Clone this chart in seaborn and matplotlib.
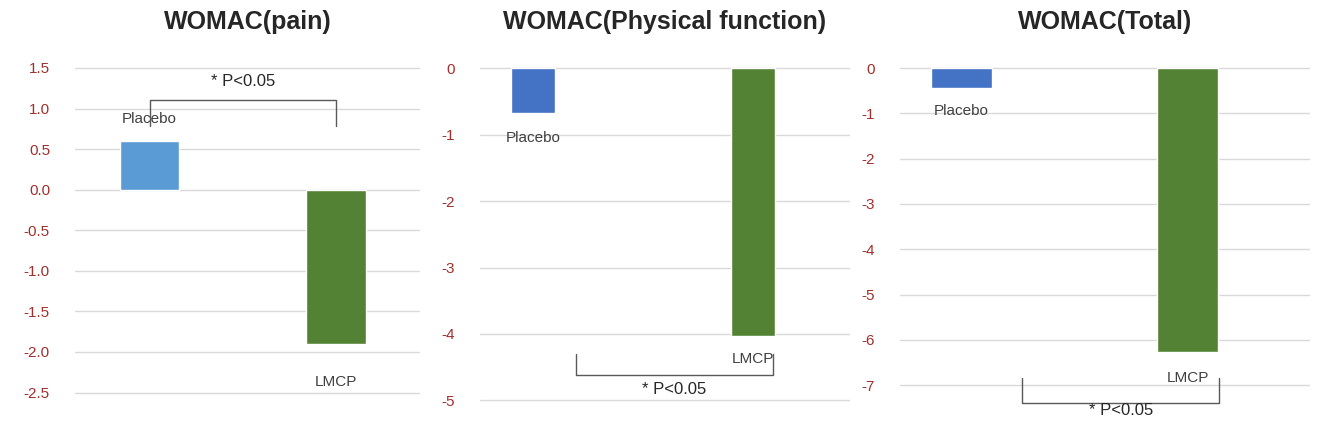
import matplotlib
matplotlib.use("Agg")
import matplotlib.pyplot as plt
import seaborn as sns
import pandas as pd

sns.set_theme(style="white")
plt.rcParams['font.family'] = ['Liberation Sans', 'DejaVu Sans']

groups = ["Placebo", "LMCP"]
titles = ["WOMAC(pain)", "WOMAC(Physical function)", "WOMAC(Total)"]
pain = [0.6, -1.9]
physical = [-0.67, -4.03]
total = [-0.44, -6.27]
values = [pain, physical, total]
ticks = [[1.5, 1.0, 0.5, 0.0, -0.5, -1.0, -1.5, -2.0, -2.5],
         [0, -1, -2, -3, -4, -5],
         [0, -1, -2, -3, -4, -5, -6, -7]]
tick_fmt = ["{:.1f}", "{:.0f}", "{:.0f}"]
sig_text = "* P<0.05"

W, H = 1325, 432
fig = plt.figure(figsize=(W/100, H/100), dpi=100)
boxes = [(75, 420), (480, 850), (900, 1310)]
ylims = [(-2.9, 1.66), (-5.37, 0.2), (-7.88, 0.29)]
xlims = [(-0.4, 1.45), (-0.24, 1.44), (-0.27, 1.54)]
widths = [0.32, 0.2, 0.27]
colors = [["#5B9BD5", "#548235"], ["#4472C4", "#548235"], ["#4472C4", "#548235"]]
labpos = [[0.875, -2.375], [-1.05, -4.38], [-0.95, -6.84]]
brackets = [(0, 1, 1.1, 0.79, 1.33), (0.195, 1.09, -4.62, -4.3, -4.83),
            (0.27, 1.14, -7.4, -6.84, -7.55)]
tickcol = "#A0302D"
top_px, bot_px = 55, 425

for i in range(3):
    l, r = boxes[i]
    ax = fig.add_axes([l/W, 1-bot_px/H, (r-l)/W, (bot_px-top_px)/H])
    df = pd.DataFrame({"g": groups, "v": values[i]})
    sns.barplot(data=df, x="g", y="v", hue="g", palette=colors[i], width=widths[i],
                legend=False, ax=ax, saturation=1)
    ax.set_xlim(*xlims[i]); ax.set_ylim(*ylims[i])
    ax.set_yticks(ticks[i])
    ax.set_yticklabels([tick_fmt[i].format(t) for t in ticks[i]], color=tickcol, fontsize=11)
    ax.tick_params(axis='y', length=0, pad=18)
    ax.set_xticks([])
    ax.set_xlabel(""); ax.set_ylabel("")
    ax.grid(axis='y', color="#D9D9D9", lw=1)
    ax.set_axisbelow(True)
    for s in ax.spines.values():
        s.set_visible(False)
    for j, g in enumerate(groups):
        ax.text(j, labpos[i][j], g, ha='center', va='center', fontsize=11, color="#404040")
    x0, x1, yh, yv, ty = brackets[i]
    ax.plot([x0, x0, x1, x1], [yv, yh, yh, yv], color="#595959", lw=1, clip_on=False)
    ax.text((x0+x1)/2, ty, sig_text, ha='center', va='center', fontsize=12, color="#262626")
    fig.text((l+r)/2/W, 1-22/H, titles[i], ha='center', va='center',
             fontsize=18, fontweight='bold', color="#262626")

fig.savefig("out.png", dpi=100, facecolor="white")
